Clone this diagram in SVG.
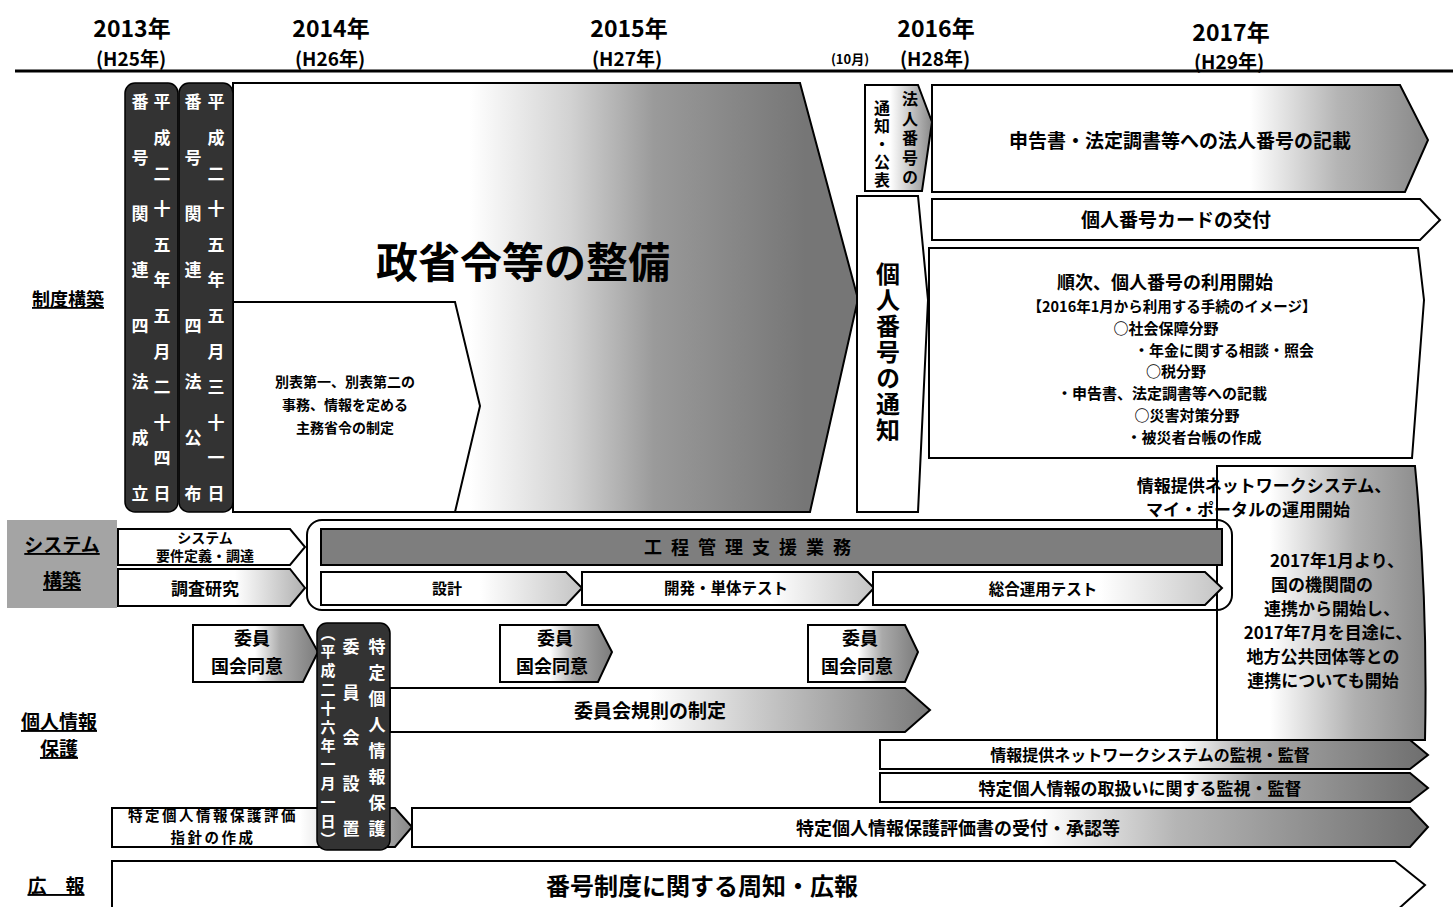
<svg xmlns="http://www.w3.org/2000/svg" width="1453" height="907" viewBox="0 0 1453 907">
<style>
.b{stroke:#000;stroke-width:2;stroke-linejoin:miter}
.t{font-family:"Noto Sans CJK JP","Noto Sans CJK SC",sans-serif;font-weight:bold;fill:#000;text-anchor:middle}
.v{writing-mode:vertical-rl;text-anchor:start}
.w{fill:#fff}
.u{text-decoration:underline}
.dk{fill:#333;stroke:#000;stroke-width:1.5}
</style>
<defs>
<linearGradient id="gBig" gradientUnits="userSpaceOnUse" x1="470" y1="0" x2="805" y2="0"><stop offset="0" stop-color="#fff"/><stop offset="0.3" stop-color="#d2d2d2"/><stop offset="0.55" stop-color="#9a9a9a"/><stop offset="1" stop-color="#767676"/></linearGradient>
<linearGradient id="gHojin" gradientUnits="userSpaceOnUse" x1="890" y1="0" x2="932" y2="0"><stop offset="0" stop-color="#fff"/><stop offset="1" stop-color="#8a8a8a"/></linearGradient>
<linearGradient id="gShin" gradientUnits="userSpaceOnUse" x1="1250" y1="0" x2="1425" y2="0"><stop offset="0" stop-color="#fff"/><stop offset="0.5" stop-color="#b5b5b5"/><stop offset="1" stop-color="#8a8a8a"/></linearGradient>
<linearGradient id="gReg" gradientUnits="userSpaceOnUse" x1="1270" y1="0" x2="1425" y2="0"><stop offset="0" stop-color="#fff"/><stop offset="0.55" stop-color="#b0b0b0"/><stop offset="1" stop-color="#8a8a8a"/></linearGradient>
<linearGradient id="gSek" gradientUnits="userSpaceOnUse" x1="480" y1="0" x2="582" y2="0"><stop offset="0" stop-color="#fff"/><stop offset="1" stop-color="#c4c4c4"/></linearGradient>
<linearGradient id="gKai" gradientUnits="userSpaceOnUse" x1="770" y1="0" x2="874" y2="0"><stop offset="0" stop-color="#fff"/><stop offset="1" stop-color="#c4c4c4"/></linearGradient>
<linearGradient id="gSogo" gradientUnits="userSpaceOnUse" x1="1100" y1="0" x2="1222" y2="0"><stop offset="0" stop-color="#fff"/><stop offset="1" stop-color="#c4c4c4"/></linearGradient>
<linearGradient id="gSys" gradientUnits="userSpaceOnUse" x1="235" y1="0" x2="305" y2="0"><stop offset="0" stop-color="#fff"/><stop offset="1" stop-color="#b0b0b0"/></linearGradient>
<linearGradient id="gIin1" gradientUnits="userSpaceOnUse" x1="255" y1="0" x2="318" y2="0"><stop offset="0" stop-color="#fff"/><stop offset="0.4" stop-color="#aaa"/><stop offset="1" stop-color="#7c7c7c"/></linearGradient>
<linearGradient id="gIin2" gradientUnits="userSpaceOnUse" x1="550" y1="0" x2="612" y2="0"><stop offset="0" stop-color="#fff"/><stop offset="0.4" stop-color="#aaa"/><stop offset="1" stop-color="#7c7c7c"/></linearGradient>
<linearGradient id="gIin3" gradientUnits="userSpaceOnUse" x1="858" y1="0" x2="918" y2="0"><stop offset="0" stop-color="#fff"/><stop offset="0.4" stop-color="#aaa"/><stop offset="1" stop-color="#7c7c7c"/></linearGradient>
<linearGradient id="gKis" gradientUnits="userSpaceOnUse" x1="650" y1="0" x2="930" y2="0"><stop offset="0" stop-color="#fff"/><stop offset="0.4" stop-color="#c8c8c8"/><stop offset="1" stop-color="#7a7a7a"/></linearGradient>
<linearGradient id="gKan" gradientUnits="userSpaceOnUse" x1="1180" y1="0" x2="1428" y2="0"><stop offset="0" stop-color="#fff"/><stop offset="0.3" stop-color="#a8a8a8"/><stop offset="1" stop-color="#6e6e6e"/></linearGradient>
<linearGradient id="gHyo" gradientUnits="userSpaceOnUse" x1="1040" y1="0" x2="1428" y2="0"><stop offset="0" stop-color="#fff"/><stop offset="0.35" stop-color="#b5b5b5"/><stop offset="1" stop-color="#6e6e6e"/></linearGradient>
<linearGradient id="gShi" gradientUnits="userSpaceOnUse" x1="300" y1="0" x2="412" y2="0"><stop offset="0" stop-color="#fff"/><stop offset="1" stop-color="#888"/></linearGradient>
</defs>

<g id="header">
<line x1="15" y1="71" x2="1453" y2="71" stroke="#000" stroke-width="3"/>
<text class="t" x="132" y="37" font-size="23">2013年</text>
<text class="t" x="131" y="66" font-size="19">(H25年)</text>
<text class="t" x="331" y="37" font-size="23">2014年</text>
<text class="t" x="330" y="66" font-size="19">(H26年)</text>
<text class="t" x="629" y="37" font-size="23">2015年</text>
<text class="t" x="627" y="66" font-size="19">(H27年)</text>
<text class="t" x="850" y="64" font-size="13">(10月)</text>
<text class="t" x="936" y="37" font-size="23">2016年</text>
<text class="t" x="935" y="66" font-size="19">(H28年)</text>
<text class="t" x="1231" y="41" font-size="23">2017年</text>
<text class="t" x="1229" y="69" font-size="19">(H29年)</text>
</g>

<g id="labels">
<text class="t u" x="68" y="306" font-size="18">制度構築</text>
<rect x="7" y="520" width="110" height="88" fill="#a4a4a4"/>
<text class="t u" x="62" y="552" font-size="19">システム</text>
<text class="t u" x="62" y="588" font-size="19">構築</text>
<text class="t u" x="59" y="729" font-size="19">個人情報</text>
<text class="t u" x="59" y="756" font-size="19">保護</text>
<text class="t u" x="56" y="893" font-size="19">広　報</text>
</g>

<g id="big-arrow">
<polygon class="b" points="233,83 800,83 858,299 810,512 233,512" fill="url(#gBig)"/>
<text class="t" x="523" y="278" font-size="42">政省令等の整備</text>
</g>

<g id="shorei">
<polygon class="b w" points="233,302 455,302 480,406 455,512 233,512"/>
<text class="t" x="345" y="387" font-size="14">別表第一、別表第二の</text>
<text class="t" x="345" y="410" font-size="14">事務、情報を定める</text>
<text class="t" x="345" y="433" font-size="14">主務省令の制定</text>
</g>

<g id="seiritsu">
<rect class="dk" x="125" y="83" width="53" height="429" rx="10"/>
<text class="t v w" x="140" font-size="17"><tspan y="93.5">番</tspan><tspan y="149.5">号</tspan><tspan y="205.5">関</tspan><tspan y="261.5">連</tspan><tspan y="317.5">四</tspan><tspan y="373.5">法</tspan><tspan y="429.5">成</tspan><tspan y="485.5">立</tspan></text>
<text class="t v w" x="162" font-size="17"><tspan y="93.5">平</tspan><tspan y="129.1">成</tspan><tspan y="164.7">二</tspan><tspan y="200.3">十</tspan><tspan y="235.9">五</tspan><tspan y="271.5">年</tspan><tspan y="307.1">五</tspan><tspan y="342.7">月</tspan><tspan y="378.3">二</tspan><tspan y="413.9">十</tspan><tspan y="449.5">四</tspan><tspan y="485.1">日</tspan></text>
</g>

<g id="kofu">
<rect class="dk" x="179" y="83" width="54" height="429" rx="10"/>
<text class="t v w" x="193" font-size="17"><tspan y="93.5">番</tspan><tspan y="149.5">号</tspan><tspan y="205.5">関</tspan><tspan y="261.5">連</tspan><tspan y="317.5">四</tspan><tspan y="373.5">法</tspan><tspan y="429.5">公</tspan><tspan y="485.5">布</tspan></text>
<text class="t v w" x="216" font-size="17"><tspan y="93.5">平</tspan><tspan y="129.1">成</tspan><tspan y="164.7">二</tspan><tspan y="200.3">十</tspan><tspan y="235.9">五</tspan><tspan y="271.5">年</tspan><tspan y="307.1">五</tspan><tspan y="342.7">月</tspan><tspan y="378.3">三</tspan><tspan y="413.9">十</tspan><tspan y="449.5">一</tspan><tspan y="485.1">日</tspan></text>
</g>

<g id="hojin-tsuchi">
<polygon class="b" points="865,85 918,85 932,122 922,191 865,191" fill="url(#gHojin)"/>
<text class="t v" x="910" font-size="16"><tspan y="91">法</tspan><tspan y="110.5">人</tspan><tspan y="130">番</tspan><tspan y="149.5">号</tspan><tspan y="169">の</tspan></text>
<text class="t v" x="882" font-size="16"><tspan y="100">通</tspan><tspan y="118">知</tspan><tspan y="136">・</tspan><tspan y="154">公</tspan><tspan y="172">表</tspan></text>
</g>

<g id="kojin-tsuchi">
<polygon class="b w" points="857,196 918,196 928,300 918,512 857,512"/>
<text class="t v" x="888" font-size="24"><tspan y="262">個</tspan><tspan y="288">人</tspan><tspan y="314">番</tspan><tspan y="340">号</tspan><tspan y="366">の</tspan><tspan y="392">通</tspan><tspan y="418">知</tspan></text>
</g>

<g id="shinkoku">
<polygon class="b" points="932,85 1400,85 1428,140 1405,192 932,192" fill="url(#gShin)"/>
<text class="t" x="1180" y="148" font-size="19">申告書・法定調書等への法人番号の記載</text>
</g>

<g id="card">
<polygon class="b w" points="932,199 1420,199 1440,220 1420,240 932,240"/>
<text class="t" x="1176" y="227" font-size="19">個人番号カードの交付</text>
</g>

<g id="riyo">
<polygon class="b w" points="929,248 1418,248 1424,300 1412,458 929,458"/>
<text class="t" x="1165" y="289" font-size="18">順次、個人番号の利用開始</text>
<text class="t" x="1172" y="312" font-size="14.5">【2016年1月から利用する手続のイメージ】</text>
<text class="t" x="1166" y="334" font-size="15">○社会保障分野</text>
<text class="t" x="1224" y="356" font-size="15">・年金に関する相談・照会</text>
<text class="t" x="1176" y="377" font-size="15">○税分野</text>
<text class="t" x="1162" y="399" font-size="15">・申告書、法定調書等への記載</text>
<text class="t" x="1187" y="421" font-size="15">○災害対策分野</text>
<text class="t" x="1194" y="443" font-size="15">・被災者台帳の作成</text>
</g>

<g id="renkei">
<path class="b" d="M1217,466 L1415,466 Q1428,600 1425,740 L1217,740 Z" fill="url(#gReg)"/>
<text class="t" x="1264" y="492" font-size="17">情報提供ネットワークシステム、</text>
<text class="t" x="1248" y="516" font-size="17">マイ・ポータルの運用開始</text>
<text class="t" x="1337" y="567" font-size="17">2017年1月より、</text>
<text class="t" x="1322" y="591" font-size="17">国の機関間の</text>
<text class="t" x="1332" y="615" font-size="17">連携から開始し、</text>
<text class="t" x="1328" y="639" font-size="17">2017年7月を目途に、</text>
<text class="t" x="1323" y="663" font-size="17">地方公共団体等との</text>
<text class="t" x="1323" y="687" font-size="17">連携についても開始</text>
</g>

<g id="system">
<polygon class="b w" points="118,529 290,529 305,547 290,565 118,565" fill="url(#gSys)"/>
<text class="t" x="205" y="543" font-size="14">システム</text>
<text class="t" x="205" y="561" font-size="14">要件定義・調達</text>
<polygon class="b" points="118,569 290,569 305,588 290,606 118,606" fill="url(#gSys)"/>
<text class="t" x="205" y="595" font-size="17">調査研究</text>
<rect x="307" y="520" width="925" height="90" rx="15" fill="none" stroke="#000" stroke-width="2"/>
<rect class="b" x="321" y="529" width="901" height="36" fill="#7e7e7e"/>
<text class="t" x="752" y="554" font-size="18" letter-spacing="9" fill="#1a1a1a">工程管理支援業務</text>
<polygon class="b" points="321,572 566,572 582,588 566,605 321,605" fill="url(#gSek)"/>
<text class="t" x="447" y="594" font-size="15">設計</text>
<polygon class="b" points="582,572 858,572 874,588 858,605 582,605" fill="url(#gKai)"/>
<text class="t" x="726" y="594" font-size="15.5">開発・単体テスト</text>
<polygon class="b" points="873,572 1205,572 1222,588 1205,605 873,605" fill="url(#gSogo)"/>
<text class="t" x="1043" y="595" font-size="15.5">総合運用テスト</text>
</g>

<g id="iin1">
<polygon class="b" points="193,625 303,625 318,652 303,682 193,682" fill="url(#gIin1)"/>
<text class="t" x="252" y="645" font-size="18">委員</text>
<text class="t" x="247" y="673" font-size="18">国会同意</text>
</g>
<g id="iin2">
<polygon class="b" points="500,625 598,625 612,652 598,682 500,682" fill="url(#gIin2)"/>
<text class="t" x="555" y="645" font-size="18">委員</text>
<text class="t" x="552" y="673" font-size="18">国会同意</text>
</g>
<g id="iin3">
<polygon class="b" points="808,625 905,625 918,652 905,682 808,682" fill="url(#gIin3)"/>
<text class="t" x="860" y="645" font-size="18">委員</text>
<text class="t" x="857" y="673" font-size="18">国会同意</text>
</g>

<g id="kisoku">
<polygon class="b" points="390,688 905,688 930,710 905,732 390,732" fill="url(#gKis)"/>
<text class="t" x="650" y="718" font-size="19">委員会規則の制定</text>
</g>

<g id="kanshi1">
<polygon class="b" points="880,740 1410,740 1428,755 1410,769 880,769" fill="url(#gKan)"/>
<text class="t" x="1150" y="761" font-size="16">情報提供ネットワークシステムの監視・監督</text>
</g>
<g id="kanshi2">
<polygon class="b" points="880,773 1410,773 1428,788 1410,802 880,802" fill="url(#gKan)"/>
<text class="t" x="1140" y="795" font-size="17">特定個人情報の取扱いに関する監視・監督</text>
</g>

<g id="shishin">
<polygon class="b" points="112,808 395,808 412,827 395,847 112,847" fill="url(#gShi)"/>
<text class="t" x="213" y="821" font-size="14.5" letter-spacing="2.5">特定個人情報保護評価</text>
<text class="t" x="213" y="843" font-size="14.5" letter-spacing="2.5">指針の作成</text>
</g>

<g id="hyokasho">
<polygon class="b" points="412,808 1410,808 1428,827 1410,847 412,847" fill="url(#gHyo)"/>
<text class="t" x="958" y="835" font-size="18">特定個人情報保護評価書の受付・承認等</text>
</g>

<g id="iinkai">
<rect class="dk" x="317" y="623" width="73" height="227" rx="10"/>
<text class="t v w" x="377" font-size="17"><tspan y="638.5">特</tspan><tspan y="664.5">定</tspan><tspan y="690.5">個</tspan><tspan y="716.5">人</tspan><tspan y="742.5">情</tspan><tspan y="768.5">報</tspan><tspan y="794.5">保</tspan><tspan y="820.5">護</tspan></text>
<text class="t v w" x="351" font-size="17"><tspan y="638.5">委</tspan><tspan y="684">員</tspan><tspan y="729.5">会</tspan><tspan y="775">設</tspan><tspan y="820.5">置</tspan></text>
<text class="t v w" x="328" font-size="15"><tspan y="625.5">（</tspan><tspan y="644.3">平</tspan><tspan y="663.1">成</tspan><tspan y="681.9">二</tspan><tspan y="700.7">十</tspan><tspan y="719.5">六</tspan><tspan y="738.3">年</tspan><tspan y="757.1">一</tspan><tspan y="775.9">月</tspan><tspan y="794.7">一</tspan><tspan y="813.5">日</tspan><tspan y="832.3">）</tspan></text>
</g>

<g id="koho">
<polygon class="b w" points="112,861 1395,861 1425,885 1395,912 112,912"/>
<text class="t" x="702" y="895" font-size="24">番号制度に関する周知・広報</text>
</g>
</svg>
